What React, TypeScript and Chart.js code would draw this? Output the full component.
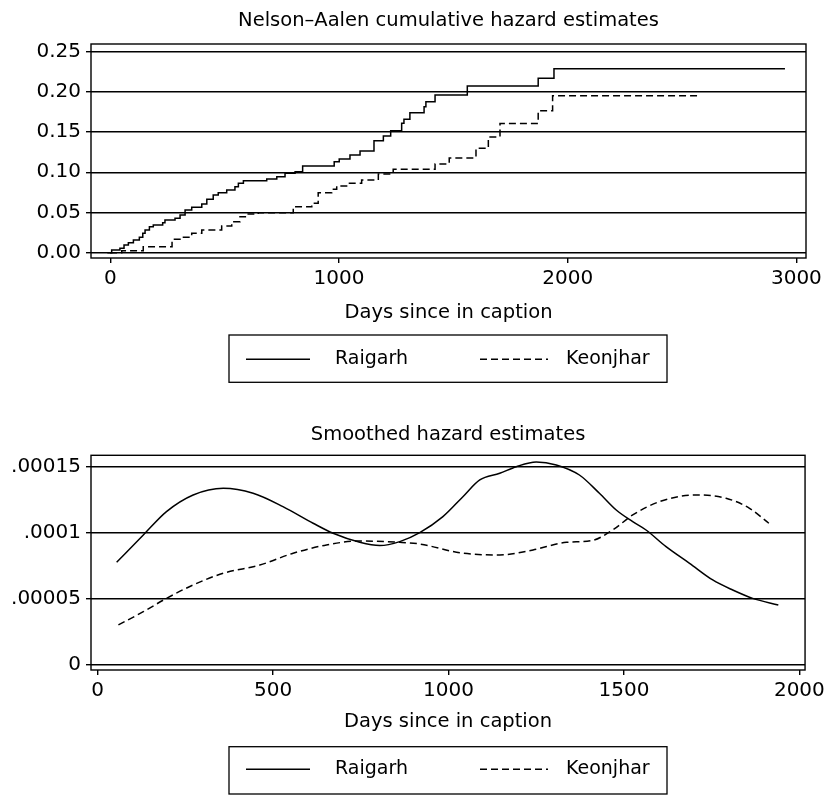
import React, { useEffect, useRef } from 'react';
import { Chart, registerables } from 'chart.js';

Chart.register(...registerables);

const FONT = '"DejaVu Sans", "Liberation Sans", sans-serif';

// ---------- shared ----------
const seriesNames = ['Raigarh', 'Keonjhar'];
const axisTitle = 'Days since in caption';

// ---------- top panel: Nelson–Aalen cumulative hazard ----------
const naTitle = 'Nelson–Aalen cumulative hazard estimates';
const naRaigarhDays = [-13, 6, 42, 60, 79, 101, 127, 142, 152, 171, 188, 229, 239, 283, 305, 327, 356, 400, 422, 450, 472, 509, 545, 560, 582, 684, 728, 764, 808, 841, 979, 1001, 1048, 1092, 1153, 1194, 1226, 1274, 1284, 1310, 1372, 1380, 1420, 1561, 1871, 1940, 2950];
const naRaigarhHazard = [0, 0.0034, 0.0055, 0.0096, 0.0124, 0.0158, 0.0191, 0.0241, 0.0282, 0.0323, 0.0344, 0.0373, 0.0406, 0.0427, 0.0468, 0.0531, 0.0564, 0.0605, 0.0664, 0.0717, 0.0746, 0.0779, 0.082, 0.0862, 0.0895, 0.0916, 0.0944, 0.0987, 0.1006, 0.1077, 0.1131, 0.1164, 0.1214, 0.1264, 0.1392, 0.145, 0.1516, 0.1608, 0.1658, 0.174, 0.1814, 0.1876, 0.196, 0.2071, 0.2167, 0.2286, 0.2286];
const naKeonjharDays = [-1, 50, 144, 270, 312, 356, 400, 487, 531, 567, 603, 647, 800, 881, 909, 968, 990, 1041, 1099, 1172, 1237, 1420, 1482, 1599, 1653, 1704, 1871, 1934, 2578];
const naKeonjharHazard = [0, 0.0025, 0.0075, 0.0166, 0.0191, 0.024, 0.0282, 0.0332, 0.0385, 0.0447, 0.0481, 0.0497, 0.0572, 0.0614, 0.0746, 0.0788, 0.0829, 0.0862, 0.0903, 0.0978, 0.1036, 0.1102, 0.1177, 0.1297, 0.1438, 0.1605, 0.1764, 0.1951, 0.1951];
const naXTicks = [0, 1000, 2000, 3000];
const naYTicks = [0, 0.05, 0.1, 0.15, 0.2, 0.25];
const naYTickLabels = ['0.00', '0.05', '0.10', '0.15', '0.20', '0.25'];

// ---------- bottom panel: smoothed hazard ----------
const shTitle = 'Smoothed hazard estimates';
const shRaigarhDays = [54, 130, 196, 272, 358, 443, 528, 614, 671, 747, 804, 861, 918, 984, 1041, 1089, 1146, 1193, 1250, 1307, 1373, 1430, 1478, 1525, 1563, 1620, 1687, 1753, 1810, 1867, 1940];
const shRaigarhHazard = [0.0000777, 0.0000983, 0.000116, 0.0001286, 0.0001337, 0.0001299, 0.0001198, 0.0001072, 0.0000996, 0.0000928, 0.0000903, 0.0000933, 0.0001001, 0.0001122, 0.0001273, 0.00014, 0.000145, 0.00015, 0.0001536, 0.0001513, 0.0001437, 0.0001299, 0.0001172, 0.0001084, 0.0001021, 0.0000895, 0.0000769, 0.0000643, 0.0000567, 0.0000504, 0.0000454];
const shKeonjharDays = [59, 130, 196, 272, 358, 462, 557, 652, 747, 861, 918, 1032, 1146, 1241, 1336, 1407, 1468, 1525, 1601, 1706, 1791, 1858, 1913];
const shKeonjharHazard = [0.0000303, 0.0000403, 0.0000504, 0.0000605, 0.0000694, 0.0000756, 0.0000845, 0.0000908, 0.0000938, 0.0000928, 0.0000915, 0.0000849, 0.0000832, 0.000087, 0.0000928, 0.000094, 0.0001021, 0.0001135, 0.0001235, 0.0001286, 0.0001261, 0.0001185, 0.0001072];
const shXTicks = [0, 500, 1000, 1500, 2000];
const shYTicks = [0, 0.00005, 0.0001, 0.00015];
const shYTickLabels = ['0', '.00005', '.0001', '.00015'];

const toXY = (xs: number[], ys: number[]) => xs.map((x, i) => ({ x, y: ys[i] }));

const DASH = [7, 4];
const LINE_W = 1.5;
const GRID_W = 1.4;

const decorPlugin = {
  id: 'decor',
  afterDraw(chart: any, _args: any, opts: any) {
    const { ctx, chartArea: a } = chart;
    ctx.save();
    ctx.strokeStyle = '#000';
    ctx.fillStyle = '#000';
    ctx.lineWidth = GRID_W;
    ctx.setLineDash([]);
    ctx.strokeRect(a.left, a.top, a.right - a.left, a.bottom - a.top);
    // title centred over plot region
    ctx.font = `19.5px ${FONT}`;
    ctx.textAlign = 'center';
    ctx.textBaseline = 'middle';
    ctx.fillText(opts.title, (a.left + a.right) / 2, opts.titleY);
    // legend
    const L = opts.legend;
    ctx.lineWidth = 1.3;
    ctx.strokeRect(L.left, L.top, L.right - L.left, L.bottom - L.top);
    ctx.font = `19px ${FONT}`;
    ctx.textAlign = 'left';
    chart.data.datasets.forEach((ds: any, i: number) => {
      const it = L.items[i];
      ctx.beginPath();
      ctx.setLineDash(ds.borderDash || []);
      ctx.lineWidth = ds.borderWidth;
      ctx.moveTo(it.x0, L.lineY);
      ctx.lineTo(it.x1, L.lineY);
      ctx.stroke();
      ctx.setLineDash([]);
      ctx.fillText(ds.label, it.tx, L.lineY);
    });
    ctx.restore();
  },
};

function makeConfig(p: any): any {
  return {
    type: 'line',
    data: {
      datasets: [
        {
          label: seriesNames[0],
          data: p.d1,
          borderColor: '#000',
          borderWidth: LINE_W,
          pointRadius: 0,
          fill: false,
          stepped: p.stepped ? true : false,
          cubicInterpolationMode: p.stepped ? 'default' : 'monotone',
        },
        {
          label: seriesNames[1],
          data: p.d2,
          borderColor: '#000',
          borderWidth: LINE_W,
          borderDash: DASH,
          pointRadius: 0,
          fill: false,
          stepped: p.stepped ? true : false,
          cubicInterpolationMode: p.stepped ? 'default' : 'monotone',
        },
      ],
    },
    options: {
      responsive: false,
      animation: false,
      parsing: true,
      layout: { padding: { top: p.padTop, right: 23, bottom: p.padBottom, left: 0 } },
      plugins: {
        legend: { display: false },
        title: { display: false },
        tooltip: { enabled: false },
        decor: { title: p.title, titleY: p.titleY, legend: p.legend },
      },
      scales: {
        x: {
          type: 'linear',
          min: p.xMin,
          max: p.xMax,
          afterBuildTicks: (s: any) => {
            s.ticks = p.xTicks.map((v: number) => ({ value: v }));
          },
          afterFit: (s: any) => {
            s.height = p.xHeight;
          },
          grid: { drawOnChartArea: false, drawTicks: true, tickLength: 5, color: '#000', lineWidth: GRID_W },
          border: { display: false },
          ticks: {
            color: '#000',
            font: { family: FONT, size: 20 },
            padding: 4,
            maxRotation: 0,
            autoSkip: false,
            callback: (v: number) => String(v),
          },
          title: {
            display: true,
            text: axisTitle,
            color: '#000',
            font: { family: FONT, size: 19.5 },
            padding: { top: 0, bottom: 0 },
          },
        },
        y: {
          type: 'linear',
          min: p.yMin,
          max: p.yMax,
          afterBuildTicks: (s: any) => {
            s.ticks = p.yTicks.map((v: number) => ({ value: v }));
          },
          afterFit: (s: any) => {
            s.width = 91;
          },
          grid: { drawOnChartArea: true, drawTicks: true, tickLength: 5, color: '#000', lineWidth: GRID_W },
          border: { display: false },
          ticks: {
            color: '#000',
            font: { family: FONT, size: 20 },
            padding: 5,
            autoSkip: false,
            callback: (v: number) => {
              const i = p.yTicks.findIndex((t: number) => Math.abs(t - v) < 1e-12);
              return i >= 0 ? p.yTickLabels[i] : '';
            },
          },
        },
      },
    },
    plugins: [decorPlugin],
  };
}

export default function App() {
  const topRef = useRef<HTMLCanvasElement>(null);
  const botRef = useRef<HTMLCanvasElement>(null);

  useEffect(() => {
    const top = new Chart(
      topRef.current as HTMLCanvasElement,
      makeConfig({
        d1: toXY(naRaigarhDays, naRaigarhHazard),
        d2: toXY(naKeonjharDays, naKeonjharHazard),
        stepped: true,
        title: naTitle,
        titleY: 21,
        padTop: 44,
        padBottom: 75.3,
        xHeight: 66.7,
        xMin: -84.4,
        xMax: 3042,
        xTicks: naXTicks,
        yMin: -0.0066,
        yMax: 0.2593,
        yTicks: naYTicks,
        yTickLabels: naYTickLabels,
        legend: {
          left: 229,
          right: 667,
          top: 335,
          bottom: 382.3,
          lineY: 359.3,
          items: [
            { x0: 246, x1: 310, tx: 335 },
            { x0: 480, x1: 548, tx: 566 },
          ],
        },
      })
    );
    const bot = new Chart(
      botRef.current as HTMLCanvasElement,
      makeConfig({
        d1: toXY(shRaigarhDays, shRaigarhHazard),
        d2: toXY(shKeonjharDays, shKeonjharHazard),
        stepped: false,
        title: shTitle,
        titleY: 34.5,
        padTop: 55.3,
        padBottom: 74.3,
        xHeight: 63.7,
        xMin: -19.1,
        xMax: 2016.2,
        xTicks: shXTicks,
        yMin: -0.0000038,
        yMax: 0.0001586,
        yTicks: shYTicks,
        yTickLabels: shYTickLabels,
        legend: {
          left: 229,
          right: 667,
          top: 346.7,
          bottom: 394,
          lineY: 369.3,
          items: [
            { x0: 246, x1: 310, tx: 335 },
            { x0: 480, x1: 548, tx: 566 },
          ],
        },
      })
    );
    return () => {
      top.destroy();
      bot.destroy();
    };
  }, []);

  return (
    <div
      style={{
        position: 'absolute',
        left: 0,
        top: 0,
        width: 829,
        height: 808,
        background: '#fff',
        overflow: 'hidden',
      }}
    >
      <canvas ref={topRef} width={829} height={400} style={{ position: 'absolute', left: 0, top: 0 }} />
      <canvas ref={botRef} width={829} height={408} style={{ position: 'absolute', left: 0, top: 400 }} />
    </div>
  );
}
